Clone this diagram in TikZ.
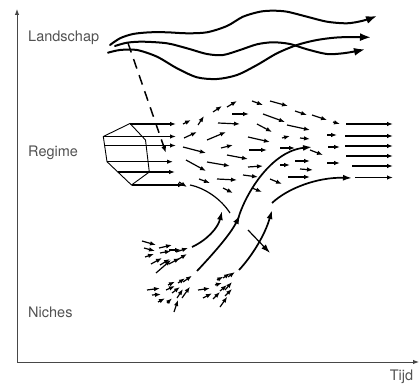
\documentclass[tikz,border=0pt]{standalone}
\usepackage{fontspec}
\setmainfont{TeX Gyre Heros}
\usetikzlibrary{arrows.meta}

\begin{document}
\begin{tikzpicture}[x=1pt,y=-1pt,
    lbl/.style={text=black!68, font=\fontsize{14.5}{17}\selectfont, inner sep=0pt},
    axisline/.style={black!72, line width=1pt, -{Latex[length=6pt,width=4.5pt]}},
    wave/.style={line width=2pt, line cap=round, -{Latex[length=11pt,width=8pt]}},
    flow/.style={every edge/.append style={line width=1.2pt, -{Latex[length=6pt,width=4.5pt]}}},
    trail/.style={line width=1.7pt, -{Latex[length=9pt,width=6pt]}}]
    \useasboundingbox (0,0) rectangle (420,385);
    % Axes
    \coordinate (o) at (17,362);
    \coordinate (ytop) at (17,9);
    \coordinate (xend) at (419,362);
    \draw[axisline] (o) -- (ytop);
    \draw[axisline] (o) -- (xend);
    \node[lbl] (tijd) at (401.5,377) {Tijd};
    \node[lbl, anchor=west] (landschap) at (28,38) {Landschap};
    \node[lbl, anchor=west] (regime) at (28,153) {Regime};
    \node[lbl, anchor=west] (niches) at (28,312) {Niches};
    % Landscape
    \draw[wave] plot[smooth] coordinates {(110,45) (120,38.3) (133,34) (150,32.3) (167,32.3) (187,33.3)
      (207,32.3) (227,26) (243,16.7) (260,11.7) (273,10.7) (287,11.7) (307,16.7) (327,21.7)
      (347,23.3) (363,20.7) (377,16)};
    \draw[wave] plot[smooth] coordinates {(115,46) (127,42.7) (143,41.7) (167,43.3) (187,48.3) (207,54)
      (223,55) (240,50) (257,44.3) (273,42.3) (290,44) (307,49.3) (327,54) (343,53.3) (357,51) (365,49.3)};
    \draw[wave] plot[smooth] coordinates {(108,52.7) (120,50) (137,50) (157,56.7) (177,68.3) (197,77.3)
      (217,79) (237,75) (257,65) (277,53.3) (297,45) (317,40) (340,37.3) (371,37.3)};
    \draw[line width=1.5pt, dash pattern=on 10pt off 7pt, -{Latex[length=7pt,width=5pt]}]
      (128,43) -- (166,153);
    % Regime
    \draw[line width=0.9pt] (103.3,136.5) -- (130,123.5) -- (145.5,140) -- (149.3,172)
      -- (131.5,185) -- (107,161.7) -- cycle;
    \path[flow] (130,124) edge (176,124)
      (103.3,136.5) edge (176,136.5)
      (104.6,145.5) edge (176,145.5)
      (107,161.7) edge (173,161.7)
      (118,172) edge (175,172)
      (131.5,185) edge (184,185);
    \path[flow] (183,124) edge (191,120) (198,125) edge (204,116) (213,112) edge (222,106)
      (227,107) edge (237,101) (252,101) edge (263,105) (270,101) edge (288,106)
      (295,111) edge (307,115) (312,115) edge (327,120) (333,122) edge (340,124)
      (232,114) edge (249,114) (263,114) edge (285,122) (287,125) edge (310,130)
      (218,123) edge (240,124) (257,124) edge (272,132)
      (184,138) edge (197,132) (207,140) edge (226,132) (248,137) edge (270,142)
      (282,138) edge (290,136) (300,138) edge (310,139) (327,135) edge (337,135)
      (183,147) edge (206,153) (221,148) edge (233,145) (249,150) edge (267,150)
      (280,148) edge (295,148) (310,150) edge (323,155) (328,147) edge (340,147)
      (186,160) edge (206,171) (207,162) edge (230,166) (227,155) edge (248,159)
      (248,167) edge (263,166) (280,165) edge (290,165) (295,161) edge (310,161)
      (300,169) edge (313,170) (327,163) edge (340,163)
      (179,182) edge (187,187) (199,179) edge (210,183) (217,179) edge (237,180)
      (243,175) edge (258,177) (270,179) edge (282,184) (288,177) edge (310,177)
      (223,188) edge (233,193) (252,188) edge (262,192);
    \path[flow] (346,124) edge (393,124) (345,136) edge (393,136) (345,146) edge (393,146)
      (346,156) edge (393,156) (352,166) edge (393,166) (355,177.5) edge (393,177.5);
    % Niches
    \path[flow] (142,241) edge (156,245) (144,248) edge (155,251) (159,248) edge (172,245)
      (160,253) edge (171,251) (169,250) edge (181,250) (176,252) edge (188,248)
      (145,257) edge (154,254) (151,264) edge (162,258) (160,265) edge (170,259)
      (156,273) edge (171,260) (169,264) edge (180,258) (177,260) edge (187,254);
    \path[flow] (147,290) edge (160,288.3) (152,295) edge (161,294.3) (158,302) edge (165,298.3)
      (167,303) edge (172,298.3) (174,312) edge (178,300) (166,290) edge (175,286)
      (168,285) edge (175,281.7) (172,293) edge (180,287) (178,283) edge (185,278.3)
      (183,282) edge (192,275.7) (177,298) edge (183,289) (182,298) edge (190,286.7);
    \path[flow] (198,290) edge (210,288.3) (203,298) edge (212,293.3) (213,299) edge (220,292)
      (217,280) edge (223.3,276.7) (215,285) edge (222,283) (223,278) edge (230,273.3)
      (228,277) edge (235,272) (220,291) edge (227,285) (225,290) edge (232,282)
      (220,307) edge (227.3,296.7) (225,296) edge (232,289);
    % Transition
    \draw[line width=1.2pt] (190,185) .. controls (205,188) and (221,199) .. (230,213);
    \draw[trail] (192,247) .. controls (207,240) and (218,228) .. (222,211);
    \draw[trail] (197,271) .. controls (212,255) and (230,235) .. (240,215);
    \draw[trail] (238,219) .. controls (246,192) and (272,151) .. (312,147);
    \draw[trail] (239,270) .. controls (252,256) and (265,235) .. (272,210);
    \draw[trail] (272,203) .. controls (288,188) and (318,177) .. (352,178);
    \draw[trail, line width=1.2pt] (248,230) -- (270,253);
  \end{tikzpicture}
\end{document}
